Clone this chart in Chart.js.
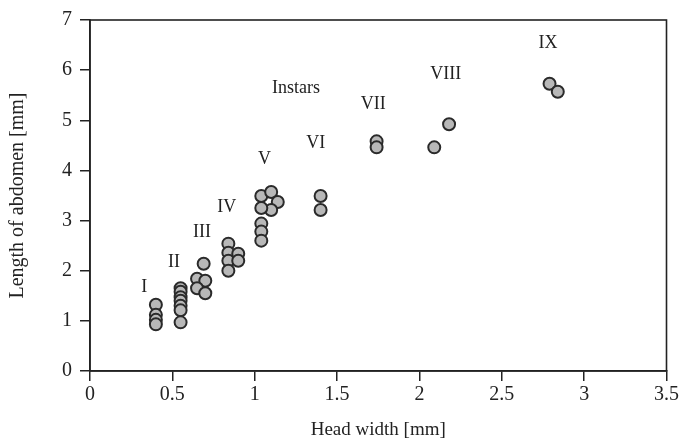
<!doctype html>
<html>
<head>
  <meta charset="utf-8" />
  <title>Instars</title>
  <script src="https://cdn.jsdelivr.net/npm/chart.js@4/dist/chart.umd.min.js"></script>
  <style>
    body { margin:0; background:#fff; }
    #wrap { width:681px; height:445px; }
  </style>
</head>
<body>
<div id="wrap"><canvas id="myChart"></canvas></div>

<script>
// head width [mm] and abdomen length [mm]
const headWidth = [
  0.40, 0.40, 0.40, 0.40,
  0.55, 0.55, 0.55, 0.55, 0.55, 0.55, 0.55,
  0.69, 0.65, 0.70, 0.65, 0.70,
  0.84, 0.84, 0.84, 0.84, 0.90, 0.90,
  1.04, 1.10, 1.14, 1.10, 1.04, 1.04, 1.04, 1.04,
  1.40, 1.40,
  1.74, 1.74,
  2.09, 2.18,
  2.79, 2.84
];
const abdomenLength = [
  1.32, 1.12, 1.02, 0.93,
  1.65, 1.58, 1.47, 1.40, 1.30, 1.21, 0.97,
  2.14, 1.84, 1.80, 1.65, 1.55,
  2.54, 2.36, 2.20, 2.00, 2.34, 2.20,
  3.49, 3.57, 3.37, 3.21, 3.25, 2.94, 2.78, 2.60,
  3.49, 3.21,
  4.58, 4.46,
  4.46, 4.92,
  5.73, 5.57
];

const labelText = ["I", "II", "III", "IV", "V", "VI", "VII", "VIII", "IX", "Instars"];
const labelX = [0.33, 0.51, 0.68, 0.83, 1.06, 1.37, 1.72, 2.16, 2.78, 1.25];
const labelY = [1.67, 2.16, 2.76, 3.27, 4.23, 4.54, 5.32, 5.91, 6.53, 5.63];

const xTicks = [0, 0.5, 1, 1.5, 2, 2.5, 3, 3.5];
const yTicks = [0, 1, 2, 3, 4, 5, 6, 7];

const points = headWidth.map((x, i) => ({ x: x, y: abdomenLength[i] }));
const ink = "#222";
const serif = "'Liberation Serif', 'DejaVu Serif', serif";

const frame = {
  id: "frame",
  afterDatasetsDraw(chart) {
    const a = chart.chartArea, ctx = chart.ctx;
    ctx.save();
    ctx.strokeStyle = ink;
    ctx.lineWidth = 1.6;
    ctx.strokeRect(a.left, a.top, a.right - a.left, a.bottom - a.top);
    ctx.fillStyle = ink;
    ctx.font = "18px " + serif;
    ctx.textAlign = "center";
    ctx.textBaseline = "middle";
    labelText.forEach((t, i) => {
      ctx.fillText(t, chart.scales.x.getPixelForValue(labelX[i]),
                      chart.scales.y.getPixelForValue(labelY[i]));
    });
    ctx.restore();
  }
};

new Chart("myChart", {
  type: "scatter",
  data: {
    datasets: [{
      data: points,
      pointRadius: 6,
      pointHoverRadius: 6,
      backgroundColor: "#b8b8b8",
      borderColor: "#2a2a2a",
      borderWidth: 2
    }]
  },
  options: {
    responsive: true,
    maintainAspectRatio: false,
    animation: false,
    layout: { padding: { top: 20, right: 13, left: 2, bottom: 0 } },
    plugins: { legend: { display: false }, tooltip: { enabled: false } },
    scales: {
      x: {
        type: "linear", min: 0, max: 3.5,
        afterBuildTicks: s => { s.ticks = xTicks.map(v => ({ value: v })); },
        afterFit: s => { s.height = 74; },
        grid: { drawOnChartArea: false, tickLength: 10, color: ink, lineWidth: 1.5 },
        border: { color: ink, width: 1.6 },
        ticks: { color: ink, padding: 2, font: { family: serif, size: 20 },
                 callback: v => String(v) },
        title: { display: true, text: "Head width [mm]", color: ink, padding: { top: 5 },
                 font: { family: serif, size: 19 } }
      },
      y: {
        type: "linear", min: 0, max: 7,
        afterBuildTicks: s => { s.ticks = yTicks.map(v => ({ value: v })); },
        afterFit: s => { s.width = 88; },
        grid: { drawOnChartArea: false, tickLength: 10, color: ink, lineWidth: 1.5 },
        border: { color: ink, width: 1.6 },
        ticks: { color: ink, padding: 8, font: { family: serif, size: 20 } },
        title: { display: true, text: "Length of abdomen [mm]", color: ink, padding: { bottom: 0 },
                 font: { family: serif, size: 20 } }
      }
    }
  },
  plugins: [frame]
});
</script>
</body>
</html>
